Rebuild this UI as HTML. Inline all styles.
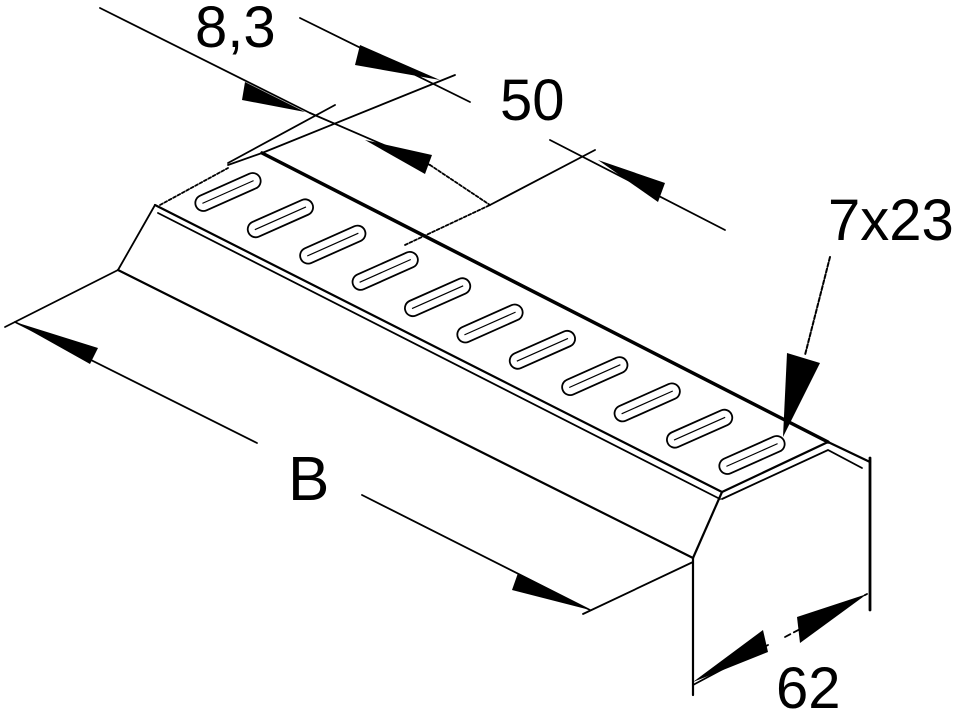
<!DOCTYPE html>
<html><head><meta charset="utf-8"><style>
html,body{margin:0;padding:0;background:#fff;}
svg{display:block;}
text{font-family:"Liberation Sans",sans-serif;fill:#000;}
</style></head><body>
<svg width="957" height="711" viewBox="0 0 957 711" xmlns="http://www.w3.org/2000/svg">
<g stroke="#000" fill="none" stroke-linecap="round">
<line x1="262" y1="153" x2="828" y2="442" stroke-width="3.5"/>
<line x1="155" y1="205" x2="722" y2="492" stroke-width="2.2"/>
<line x1="158" y1="213" x2="720" y2="499" stroke-width="1.8"/>
<line x1="160" y1="205" x2="228" y2="168" stroke-width="1.8" stroke-dasharray="3,2"/>
<line x1="228" y1="165" x2="262" y2="153" stroke-width="1.8"/>
<line x1="155" y1="205" x2="118" y2="270" stroke-width="1.8"/>
<line x1="118" y1="270" x2="693" y2="558" stroke-width="2.2"/>
<polyline points="722,492 828,442 870,462" stroke-width="2.2"/>
<polyline points="722,499 828,450 862,468" stroke-width="1.8"/>
<line x1="722" y1="492" x2="693" y2="558" stroke-width="2.2"/>
<line x1="693" y1="558" x2="693" y2="695" stroke-width="2.2"/>
<line x1="870" y1="458" x2="870" y2="610" stroke-width="2.8"/>
<line x1="118" y1="270" x2="5" y2="327" stroke-width="1.8"/>
<line x1="693" y1="562" x2="583" y2="614" stroke-width="1.8"/>
<line x1="15" y1="322" x2="257" y2="443" stroke-width="1.8"/>
<line x1="362" y1="495" x2="590" y2="610" stroke-width="1.8"/>
<line x1="693" y1="685" x2="768" y2="645" stroke-width="1.8"/>
<line x1="785" y1="637" x2="867" y2="594" stroke-width="1.8" stroke-dasharray="6,4"/>
<line x1="100" y1="8" x2="310" y2="113" stroke-width="1.8"/>
<line x1="300" y1="18" x2="470" y2="102" stroke-width="1.8"/>
<line x1="228" y1="163" x2="335" y2="105" stroke-width="1.8"/>
<line x1="262" y1="153" x2="455" y2="75" stroke-width="1.8"/>
<line x1="310" y1="113" x2="430" y2="165" stroke-width="1.8"/>
<line x1="430" y1="165" x2="490" y2="205" stroke-width="1.8" stroke-dasharray="3,2"/>
<line x1="405" y1="245" x2="490" y2="205" stroke-width="1.8" stroke-dasharray="3,2"/>
<line x1="490" y1="205" x2="595" y2="150" stroke-width="1.8"/>
<line x1="550" y1="140" x2="725" y2="230" stroke-width="1.8"/>
<line x1="830" y1="257" x2="805" y2="355" stroke-width="2" stroke-dasharray="4,2"/>
</g>
<g fill="#000">
<polygon points="15,322 98,348 90,364"/>
<polygon points="590,610 518,573 512,590"/>
<polygon points="693,682 763,630 768,652"/>
<polygon points="867,594 797,617 800,643"/>
<polygon points="305,112 245,82 242,100"/>
<polygon points="440,80 360,45 355,65"/>
<polygon points="365,140 432,155 425,174"/>
<polygon points="598,160 665,183 658,202"/>
<polygon points="783,437 787,353 820,363"/>
</g>
<g stroke="#000" fill="#fff" stroke-width="1.8">
<g transform="translate(228,192) rotate(-24)"><rect x="-35" y="-8" width="70" height="16" rx="8"/><line x1="-28" y1="0" x2="28" y2="0" stroke-width="1.2"/></g>
<g transform="translate(280.4,218.3) rotate(-24)"><rect x="-35" y="-8" width="70" height="16" rx="8"/><line x1="-28" y1="0" x2="28" y2="0" stroke-width="1.2"/></g>
<g transform="translate(332.8,244.6) rotate(-24)"><rect x="-35" y="-8" width="70" height="16" rx="8"/><line x1="-28" y1="0" x2="28" y2="0" stroke-width="1.2"/></g>
<g transform="translate(385.2,270.9) rotate(-24)"><rect x="-35" y="-8" width="70" height="16" rx="8"/><line x1="-28" y1="0" x2="28" y2="0" stroke-width="1.2"/></g>
<g transform="translate(437.6,297.2) rotate(-24)"><rect x="-35" y="-8" width="70" height="16" rx="8"/><line x1="-28" y1="0" x2="28" y2="0" stroke-width="1.2"/></g>
<g transform="translate(490,323.5) rotate(-24)"><rect x="-35" y="-8" width="70" height="16" rx="8"/><line x1="-28" y1="0" x2="28" y2="0" stroke-width="1.2"/></g>
<g transform="translate(542.4,349.8) rotate(-24)"><rect x="-35" y="-8" width="70" height="16" rx="8"/><line x1="-28" y1="0" x2="28" y2="0" stroke-width="1.2"/></g>
<g transform="translate(594.8,376.1) rotate(-24)"><rect x="-35" y="-8" width="70" height="16" rx="8"/><line x1="-28" y1="0" x2="28" y2="0" stroke-width="1.2"/></g>
<g transform="translate(647.2,402.4) rotate(-24)"><rect x="-35" y="-8" width="70" height="16" rx="8"/><line x1="-28" y1="0" x2="28" y2="0" stroke-width="1.2"/></g>
<g transform="translate(699.6,428.7) rotate(-24)"><rect x="-35" y="-8" width="70" height="16" rx="8"/><line x1="-28" y1="0" x2="28" y2="0" stroke-width="1.2"/></g>
<g transform="translate(752,455) rotate(-24)"><rect x="-35" y="-8" width="70" height="16" rx="8"/><line x1="-28" y1="0" x2="28" y2="0" stroke-width="1.2"/></g>
</g>
<text x="195" y="47" font-size="58">8,3</text>
<text x="500" y="120" font-size="58">50</text>
<text x="828" y="240" font-size="58">7x23</text>
<text x="288" y="500" font-size="62">B</text>
<text x="776" y="708" font-size="58">62</text>
</svg>
</body></html>
